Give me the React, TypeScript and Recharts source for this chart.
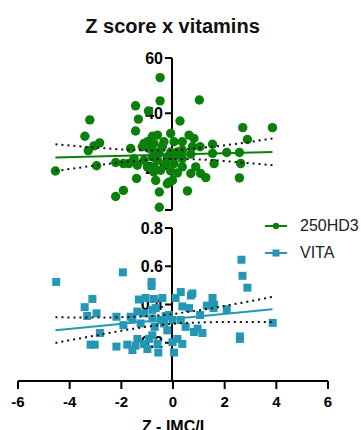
import { ScatterChart, Scatter, XAxis, YAxis } from "recharts"

const GREEN = "#0b7f0b"
const TEAL = "#2597b5"
const FONT = "'Liberation Sans', Arial, Helvetica, sans-serif"

// 25OHD3 panel (x = Z score, y = 25OHD3)
const zD = [
  -0.5, -0.5, 1.02, -1.45, -0.95, -1.34, 0.27, -3.22, -1.45, -3.41, 2.7, 3.85, 2.88, -2.84, -3.06, -3.28,
  -4.55, -2.96, -2.22, -1.92, -1.64, -1.41, -2.22, -1.92, -0.53, -0.53, -0.67, -0.22, -0.02, 0.56, -0.09,
  -0.6, -0.35, -0.74, -1.12, -1.19, -0.93, 0.04, 0.36, 0.62, 0.81, 1.05, 0.75, 0.36, 0.69, 1.53, 1.53,
  1.59, 2.08, 2.57, 2.62, 2.57, 1.07, 0.88, 1.27, 0.69, 0.17, -0.16, 0.36, 0.04, -0.22, -0.54, -0.8,
  -1.12, -1.38, -0.99, -0.74, -0.48, -0.28, -0.6, -0.09, 0.17, 0.36, -0.8, -0.99, -0.67, -1.71, -1.51,
  -0.09, 0.1, -0.41, -0.74,
]
const vitD = [
  52.9, 44.5, 44.8, 42.7, 40.8, 37.9, 37.2, 37.6, 33.6, 31.7, 34.8, 34.8, 30.5, 29.3, 28.2, 26.5,
  19.1, 21.0, 22.2, 21.8, 27.3, 16.4, 9.9, 12.1, 6.0, 11.5, 15.7, 14.5, 15.7, 11.9, 32.7,
  32.1, 29.7, 29.1, 29.1, 27.9, 27.3, 29.7, 29.7, 32.1, 30.9, 27.9, 27.9, 26.7, 25.2, 28.8, 25.5,
  21.8, 25.8, 25.8, 21.8, 16.6, 18.2, 20.6, 16.7, 18.2, 18.4, 15.1, 20.6, 21.8, 24.2, 25.5, 24.2,
  23.0, 21.2, 20.6, 18.8, 19.4, 21.8, 23.0, 26.0, 26.0, 23.6, 31.7, 29.7, 26.0, 21.8, 23.6,
  19.1, 24.8, 28.1, 20.6,
]

// VITA panel
const zA = [
  -4.52, -1.94, -0.83, -0.83, 2.65, 2.69, 2.88, 3.86, 2.59, 2.59, -3.12, -3.42, -3.32, -2.96, -2.83, -3.19,
  -3.03, -2.19, -2.19, -1.92, -1.64, -1.77, -1.57, -1.38, -1.32, -1.38, -1.06, -1.12, -1.25, -1.12, -0.93,
  -0.74, -0.67, -0.71, -0.8, -0.6, -0.57, -0.41, -0.48, -0.35, -0.28, -0.22, -0.02, 0.04, -0.02, 0.1,
  0.3, 0.36, 0.3, 0.36, 0.17, 0.49, 0.69, 0.62, 0.75, 0.81, 0.95, 1.05, 1.14, 1.31, 1.53, 1.59, 1.57,
  2.08, -1.57, -0.8, -0.16, -0.99, -1.45, -0.8,
]
const vitA = [
  0.518, 0.568, 0.518, 0.497, 0.634, 0.55, 0.488, 0.304, 0.233, 0.22, 0.429, 0.386, 0.34, 0.354, 0.251, 0.19,
  0.19, 0.336, 0.18, 0.292, 0.336, 0.19, 0.162, 0.22, 0.426, 0.363, 0.434, 0.354, 0.301, 0.194, 0.22,
  0.429, 0.381, 0.283, 0.239, 0.194, 0.149, 0.434, 0.319, 0.301, 0.34, 0.265, 0.203, 0.149, 0.319, 0.434,
  0.465, 0.39, 0.319, 0.194, 0.22, 0.283, 0.447, 0.381, 0.458, 0.256, 0.274, 0.345, 0.251, 0.394, 0.434, 0.399, 0.381,
  0.375, 0.327, 0.327, 0.345, 0.167, 0.185, 0.372,
]

// regression lines and 95% bands
const fitEnds = [-4.55, 3.85]
const fitD = [24.0, 26.0]
const fitA = [0.265, 0.375]
const bandX = [-4.55, -3, -1.5, -0.3, 1, 2.5, 3.85]
const upperD = [28.8, 27.6, 26.7, 26.5, 27.4, 29.0, 30.9]
const lowerD = [19.1, 21.1, 22.7, 23.5, 23.3, 22.3, 21.2]
const upperA = [0.333, 0.332, 0.336, 0.346, 0.37, 0.405, 0.44]
const lowerA = [0.199, 0.238, 0.274, 0.296, 0.306, 0.309, 0.308]

const xTicks = [-6, -4, -2, 0, 2, 4, 6]
const dTicks = [5, 20, 40, 60]
const aTicks = [0.2, 0.4, 0.6, 0.8]

const pts = (xs: number[], ys: number[]) => xs.map((x, i) => ({ x, y: ys[i] }))

const W = 361
const H = 430
const PLOT_L = 18
const PLOT_R = 328
const AXIS_X = 172

const abs = { position: "absolute" as const, left: 0, top: 0 }
const noShape = () => <g />

function Lines({ fit, upper, lower, color }: { fit: number[]; upper: number[]; lower: number[]; color: string }) {
  return (
    <>
      <Scatter data={pts(bandX, upper)} line={{ stroke: "#111", strokeWidth: 2, strokeDasharray: "2 4" }} lineJointType="monotoneX" shape={noShape} isAnimationActive={false} />
      <Scatter data={pts(bandX, lower)} line={{ stroke: "#111", strokeWidth: 2, strokeDasharray: "2 4" }} lineJointType="monotoneX" shape={noShape} isAnimationActive={false} />
      <Scatter data={pts(fitEnds, fit)} line={{ stroke: color, strokeWidth: 2 }} shape={noShape} isAnimationActive={false} />
    </>
  )
}

// y axis drawn at x = 0 (Prism style): a second chart whose plot starts at the zero line
function YAxisLayer({ top, bottom, domain, ticks, fmt, data }: { top: number; bottom: number; domain: number[]; ticks: number[]; fmt: (v: number) => string; data: { x: number; y: number }[] }) {
  return (
    <div style={abs}>
      <ScatterChart width={W} height={H} margin={{ top, bottom, left: AXIS_X - 60, right: W - PLOT_R }}>
        <XAxis type="number" dataKey="x" domain={[-6, 6]} hide />
        <YAxis
          type="number"
          dataKey="y"
          domain={domain}
          ticks={ticks}
          interval={0}
          width={60}
          tickSize={7}
          tickMargin={2}
          tickFormatter={fmt}
          axisLine={{ stroke: "#000", strokeWidth: 2 }}
          tickLine={{ stroke: "#000", strokeWidth: 2 }}
          tick={{ fill: "#000", fontSize: 16, fontWeight: 700, fontFamily: FONT }}
        />
        <Scatter data={data} shape={noShape} isAnimationActive={false} />
      </ScatterChart>
    </div>
  )
}

const circle = (p: any) => <circle cx={p.cx} cy={p.cy} r={4.7} fill={GREEN} />
const square = (p: any) => <rect x={p.cx - 4} y={p.cy - 4} width={8} height={8} fill={TEAL} />

export default function App() {
  return (
    <div style={{ ...abs, width: W, height: H, background: "#fff", overflow: "hidden", fontFamily: FONT }}>
      <div style={{ position: "absolute", left: 0, width: 345, top: 15, textAlign: "center", fontSize: 20, fontWeight: 700, color: "#111" }}>
        Z score x vitamins
      </div>

      <YAxisLayer top={58} bottom={H - 210} domain={[5, 60]} ticks={dTicks} fmt={(v) => (v === 5 ? "" : String(v))} data={pts(zD, vitD)} />
      <YAxisLayer top={228} bottom={H - 381} domain={[0, 0.8]} ticks={aTicks} fmt={(v) => v.toFixed(1)} data={pts(zA, vitA)} />

      {/* 25OHD3 data */}
      <div style={abs}>
        <ScatterChart width={W} height={H} margin={{ top: 58, bottom: H - 210, left: PLOT_L, right: W - PLOT_R }}>
          <XAxis type="number" dataKey="x" domain={[-6, 6]} hide />
          <YAxis type="number" dataKey="y" domain={[5, 60]} hide />
          <Scatter name="250HD3" data={pts(zD, vitD)} shape={circle} isAnimationActive={false} />
          <Lines fit={fitD} upper={upperD} lower={lowerD} color={GREEN} />
        </ScatterChart>
      </div>

      {/* VITA data + shared x axis */}
      <div style={abs}>
        <ScatterChart width={W} height={H} margin={{ top: 228, bottom: 4, left: PLOT_L, right: W - PLOT_R }}>
          <XAxis
            type="number"
            dataKey="x"
            domain={[-6, 6]}
            ticks={xTicks}
            interval={0}
            height={45}
            tickSize={8}
            tickMargin={7}
            axisLine={{ stroke: "#000", strokeWidth: 2 }}
            tickLine={{ stroke: "#000", strokeWidth: 2 }}
            tick={{ fill: "#000", fontSize: 15, fontWeight: 700, fontFamily: FONT }}
            label={{ value: "Z - IMC/I", position: "insideBottom", offset: -6, fill: "#000", fontSize: 16, fontWeight: 700, fontFamily: FONT }}
          />
          <YAxis type="number" dataKey="y" domain={[0, 0.8]} hide />
          <Scatter name="VITA" data={pts(zA, vitA)} shape={square} isAnimationActive={false} />
          <Lines fit={fitA} upper={upperA} lower={lowerA} color={TEAL} />
        </ScatterChart>
      </div>

      {/* legend */}
      <div style={{ position: "absolute", left: 262, top: 212, fontSize: 16, color: "#222", lineHeight: "27px" }}>
        <div style={{ display: "flex", alignItems: "center" }}>
          <svg width={28} height={12} style={{ marginRight: 10 }}>
            <line x1={3} y1={6} x2={25} y2={6} stroke={GREEN} strokeWidth={2} />
            <circle cx={14} cy={6} r={3.2} fill={GREEN} />
          </svg>
          250HD3
        </div>
        <div style={{ display: "flex", alignItems: "center" }}>
          <svg width={28} height={12} style={{ marginRight: 10 }}>
            <line x1={3} y1={6} x2={25} y2={6} stroke={TEAL} strokeWidth={2} />
            <rect x={10.5} y={2.5} width={7} height={7} fill={TEAL} />
          </svg>
          VITA
        </div>
      </div>
    </div>
  )
}
